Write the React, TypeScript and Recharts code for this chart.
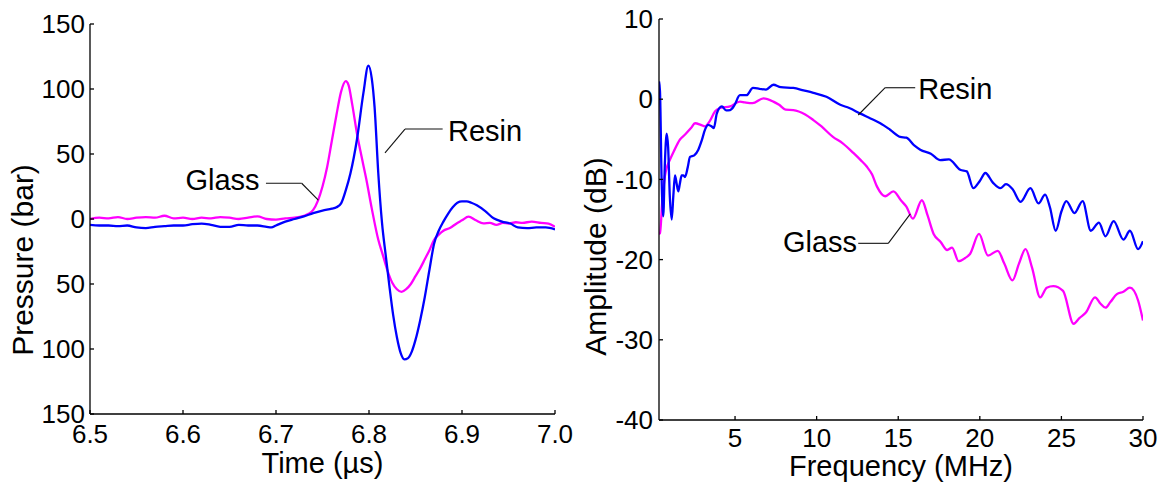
import React from 'react';
import { LineChart, Line, XAxis, YAxis, ReferenceLine, ReferenceDot, Label } from 'recharts';

// ---------- Left panel: pressure vs time ----------
const resinTime = [6.5, 6.51, 6.52, 6.53, 6.54, 6.55, 6.56, 6.57, 6.58, 6.59, 6.6, 6.61, 6.62, 6.63, 6.64, 6.65, 6.66, 6.67, 6.68, 6.69, 6.695, 6.7, 6.71, 6.72, 6.73, 6.74, 6.75, 6.76, 6.765, 6.77, 6.775, 6.78, 6.787, 6.794, 6.7993, 6.803, 6.806, 6.81, 6.814, 6.818, 6.822, 6.826, 6.83, 6.834, 6.838, 6.842, 6.846, 6.85, 6.855, 6.86, 6.865, 6.87, 6.875, 6.88, 6.885, 6.89, 6.895, 6.9, 6.905, 6.91, 6.916, 6.925, 6.934, 6.943, 6.952, 6.96, 6.97, 6.98, 6.99, 7.0];
const resinPressure = [-4.5, -5, -5, -5.5, -5, -6.5, -7, -6, -5.5, -5, -5, -4, -3.5, -4.5, -6, -6, -4.5, -5, -5, -6, -6.5, -5, -2, 0, 2, 4.5, 6.5, 8, 9, 12, 22, 35, 61, 97, 118, 108, 86, 35, -3, -28, -52, -74, -91, -103, -108, -107, -102, -93, -78, -60, -39, -19, -9, -2, 4, 9, 12.5, 13.5, 13.5, 12.5, 10.5, 6, 0.5, -2, -3.5, -6.5, -7, -6.5, -6.5, -8];

const glassTime = [6.5, 6.51, 6.52, 6.53, 6.54, 6.55, 6.56, 6.57, 6.58, 6.59, 6.6, 6.61, 6.62, 6.63, 6.64, 6.65, 6.66, 6.67, 6.68, 6.69, 6.7, 6.71, 6.72, 6.73, 6.735, 6.74, 6.745, 6.75, 6.755, 6.76, 6.765, 6.77, 6.775, 6.778, 6.782, 6.787, 6.792, 6.797, 6.803, 6.81, 6.815, 6.82, 6.825, 6.83, 6.835, 6.84, 6.845, 6.85, 6.855, 6.86, 6.865, 6.87, 6.875, 6.88, 6.887, 6.895, 6.9, 6.907, 6.915, 6.923, 6.93, 6.937, 6.944, 6.95, 6.958, 6.965, 6.975, 6.985, 6.993, 7.0];
const glassPressure = [0, 1, 0.5, 1.5, 0, 1, 1.5, 1, 2.5, 0.5, 1, 0, 1, 0.5, 1.5, 1, 0, 1, 2, 0, -0.5, 0.5, 1, 2.5, 4, 7, 14, 25, 40, 60, 80, 98, 106, 103, 88, 66, 48, 31, 8, -16, -28, -40, -49, -54, -56, -54, -50, -44, -38, -31, -24, -16, -12, -9, -7, -3, -1, 1.8, -1, -3.3, -3, -4.5, -3, -3.5, -2.5, -3, -2, -3, -3.5, -6];

const timeTicks = [6.5, 6.6, 6.7, 6.8, 6.9, 7.0];
const pressureTicks = [-150, -100, -50, 0, 50, 100, 150];

// ---------- Right panel: amplitude vs frequency ----------
const resinFreq = [0.34, 0.4, 0.5, 0.6, 0.7, 0.81, 0.9, 1.0, 1.12, 1.22, 1.32, 1.42, 1.52, 1.62, 1.73, 1.83, 1.93, 2.1, 2.24, 2.5, 2.75, 2.95, 3.16, 3.35, 3.57, 3.7, 3.88, 4.19, 4.45, 4.7, 4.95, 5.3, 5.7, 6.1, 6.5, 6.9, 7.35, 7.8, 8.57, 9.2, 9.8, 10.6, 11.45, 12.0, 12.68, 13.3, 13.9, 14.5, 15.12, 15.5, 16.0, 16.35, 17.0, 17.58, 18.1, 18.8, 19.2, 19.6, 20.0, 20.34, 20.8, 21.26, 21.6, 22.0, 22.5, 23.1, 23.6, 24.0, 24.3, 24.65, 25.0, 25.3, 25.8, 26.3, 26.8, 27.3, 27.7, 28.2, 28.8, 29.2, 29.7, 30];
const resinAmp = [2.2, 1, -10, -14.6, -8, -4.3, -6, -12, -15, -12, -9.5, -10.5, -11.5, -10.5, -9.5, -9.5, -9.7, -8.5, -7.2, -7, -6.3, -5.2, -3.8, -3.2, -3.4, -3.6, -1.8, -0.9, -1.4, -1.35, -0.8, 0.5, 0.5, 1.4, 1.3, 1.2, 1.8, 1.5, 1.4, 1.1, 0.8, 0.3, -0.7, -1.1, -1.8, -2.4, -3, -3.8, -4.7, -4.8, -5.8, -6.3, -6.8, -7.6, -7.5, -8.8, -9, -11.1, -10.2, -9.2, -10.4, -11.1, -10.6, -11.2, -12.8, -11.1, -13, -11.9, -13.5, -16.4, -14, -12.7, -14.2, -12.7, -16.4, -15.4, -17.1, -15.2, -17.5, -16.4, -18.7, -17.7];

const glassFreq = [0.34, 0.4, 0.55, 0.7, 0.85, 1.0, 1.25, 1.6, 1.94, 2.3, 2.55, 2.9, 3.16, 3.43, 3.78, 4.1, 4.7, 5.3, 5.6, 6.07, 6.74, 7.35, 7.7, 8.1, 8.57, 9.3, 9.8, 10.3, 11.0, 11.6, 12.25, 12.7, 13.07, 13.4, 13.7, 14.2, 14.7, 15.2, 15.5, 15.9, 16.45, 16.8, 17.17, 17.6, 18.0, 18.3, 18.7, 19.1, 19.4, 19.95, 20.5, 21.1, 21.5, 22.0, 22.4, 22.8, 23.2, 23.7, 24.1, 24.5, 25.1, 25.75, 26.1, 26.5, 27.06, 27.4, 27.7, 28.0, 28.4, 28.8, 29.2, 29.7, 30];
const glassAmp = [-16.8, -16.7, -12.5, -9.6, -8.3, -7.6, -6.5, -5.1, -4.4, -3.6, -3, -3.2, -3.4, -2.8, -1.5, -1.1, -0.9, -0.3, -0.4, -0.5, 0.1, -0.3, -0.7, -1.3, -1.35, -1.9, -2.6, -3.4, -4.7, -5.5, -6.7, -7.6, -8.4, -9.4, -10.9, -12.1, -11.5, -12.7, -13.4, -14.9, -12.6, -14.5, -16.8, -17.8, -18.8, -18.5, -20.2, -19.8, -19.3, -16.8, -19.5, -18.9, -20.5, -22.6, -20.5, -18.7, -21, -24.7, -23.5, -23.3, -23.9, -28, -27.3, -26.6, -24.7, -25.5, -26, -25.3, -24.3, -24, -23.5, -25.1, -27.6];

const freqTicks = [5, 10, 15, 20, 25, 30];
const ampTicks = [-40, -30, -20, -10, 0, 10];

const zip = (xs: number[], ys: number[], kx: string, ky: string) =>
  xs.map((x, i) => ({ [kx]: x, [ky]: ys[i] }));

const resinTimeData = zip(resinTime, resinPressure, 't', 'p');
const glassTimeData = zip(glassTime, glassPressure, 't', 'p');
const resinFreqData = zip(resinFreq, resinAmp, 'f', 'a');
const glassFreqData = zip(glassFreq, glassAmp, 'f', 'a');

const FONT = '"Liberation Sans", Arial, Helvetica, sans-serif';
const BLUE = '#0000ff';
const MAGENTA = '#ff00ff';
const tickStyle = { fill: '#000', fontSize: 26, fontFamily: FONT };
const axisStroke = { stroke: '#000', strokeWidth: 1.3 };
const leader = { stroke: '#111', strokeWidth: 1.1 };

const textShape = (label: string, anchor: 'start' | 'end') => (p: any) => (
  <text x={p.cx} y={p.cy} textAnchor={anchor} fontSize={29} fontFamily={FONT} fill="#000">
    {label}
  </text>
);

const xLabel = (value: string, dy: number) => (props: any) => {
  const vb = props.viewBox;
  return (
    <text x={vb.x + vb.width / 2} y={vb.y + dy} textAnchor="middle" fontSize={29} fontFamily={FONT} fill="#000">
      {value}
    </text>
  );
};

const yLabel = (value: string, xPos: number, yShift: number) => (props: any) => {
  const vb = props.viewBox;
  const cy = vb.y + vb.height / 2 + yShift;
  return (
    <text x={xPos} y={cy} transform={`rotate(-90, ${xPos}, ${cy})`} textAnchor="middle" fontSize={30} fontFamily={FONT} fill="#000">
      {value}
    </text>
  );
};

function TimePanel() {
  return (
    <LineChart width={580} height={485} margin={{ top: 24, right: 25, bottom: 0, left: 0 }}>
      <XAxis
        xAxisId="main"
        type="number"
        dataKey="t"
        domain={[6.5, 7.0]}
        ticks={timeTicks}
        tickFormatter={(v: number) => v.toFixed(1)}
        allowDataOverflow
        height={71}
        tickSize={-4}
        tickMargin={15}
        tick={tickStyle}
        axisLine={axisStroke}
        tickLine={axisStroke}
      >
        <Label content={xLabel('Time (µs)', 59)} />
      </XAxis>
      <XAxis
        xAxisId="top"
        orientation="top"
        type="number"
        dataKey="t"
        domain={[6.5, 7.0]}
        ticks={timeTicks}
        allowDataOverflow
        height={0}
        tickSize={-4}
        tick={false}
        axisLine={axisStroke}
        tickLine={axisStroke}
      />
      <YAxis
        yAxisId="main"
        type="number"
        domain={[-150, 150]}
        ticks={pressureTicks}
        tickFormatter={(v: number) => String(Math.abs(v))}
        allowDataOverflow
        width={90}
        tickSize={-4}
        tickMargin={9}
        tick={tickStyle}
        axisLine={axisStroke}
        tickLine={axisStroke}
      >
        <Label content={yLabel('Pressure (bar)', 33, 41)} />
      </YAxis>
      <YAxis
        yAxisId="right"
        orientation="right"
        type="number"
        domain={[-150, 150]}
        ticks={pressureTicks}
        allowDataOverflow
        width={0}
        tickSize={-4}
        tick={false}
        axisLine={axisStroke}
        tickLine={axisStroke}
      />
      <Line xAxisId="main" yAxisId="main" type="monotone" data={glassTimeData} dataKey="p" stroke={MAGENTA} strokeWidth={2.3} dot={false} isAnimationActive={false} />
      <Line xAxisId="main" yAxisId="main" type="monotone" data={resinTimeData} dataKey="p" stroke={BLUE} strokeWidth={2.3} dot={false} isAnimationActive={false} />
      <ReferenceLine xAxisId="main" yAxisId="main" segment={[{ x: 6.8792, y: 69.2 }, { x: 6.8387, y: 69.2 }]} {...leader} ifOverflow="visible" />
      <ReferenceLine xAxisId="main" yAxisId="main" segment={[{ x: 6.8387, y: 69.2 }, { x: 6.8172, y: 50.8 }]} {...leader} ifOverflow="visible" />
      <ReferenceDot xAxisId="main" yAxisId="main" x={6.885} y={60} r={0} ifOverflow="visible" shape={textShape('Resin', 'start')} />
      <ReferenceLine xAxisId="main" yAxisId="main" segment={[{ x: 6.6892, y: 27.5 }, { x: 6.7276, y: 27.5 }]} {...leader} ifOverflow="visible" />
      <ReferenceLine xAxisId="main" yAxisId="main" segment={[{ x: 6.7276, y: 27.5 }, { x: 6.7455, y: 14.6 }]} {...leader} ifOverflow="visible" />
      <ReferenceDot xAxisId="main" yAxisId="main" x={6.6823} y={22.3} r={0} ifOverflow="visible" shape={textShape('Glass', 'end')} />
    </LineChart>
  );
}

function FreqPanel() {
  return (
    <LineChart width={587} height={485} margin={{ top: 19, right: 24, bottom: 0, left: 0 }}>
      <XAxis
        xAxisId="main"
        type="number"
        dataKey="f"
        domain={[0.34, 30]}
        ticks={freqTicks}
        allowDataOverflow
        height={65}
        tickSize={-4}
        tickMargin={13}
        tick={tickStyle}
        axisLine={axisStroke}
        tickLine={axisStroke}
      >
        <Label content={xLabel('Frequency (MHz)', 56)} />
      </XAxis>
      <XAxis
        xAxisId="top"
        orientation="top"
        type="number"
        dataKey="f"
        domain={[0.34, 30]}
        ticks={freqTicks}
        allowDataOverflow
        height={0}
        tickSize={-4}
        tick={false}
        axisLine={axisStroke}
        tickLine={axisStroke}
      />
      <YAxis
        yAxisId="main"
        type="number"
        domain={[-40, 10]}
        ticks={ampTicks}
        allowDataOverflow
        width={79}
        tickSize={-4}
        tickMargin={10}
        tick={tickStyle}
        axisLine={axisStroke}
        tickLine={axisStroke}
      >
        <Label content={yLabel('Amplitude (dB)', 26, 37)} />
      </YAxis>
      <YAxis
        yAxisId="right"
        orientation="right"
        type="number"
        domain={[-40, 10]}
        ticks={ampTicks}
        allowDataOverflow
        width={0}
        tickSize={-4}
        tick={false}
        axisLine={axisStroke}
        tickLine={axisStroke}
      />
      <Line xAxisId="main" yAxisId="main" type="monotone" data={glassFreqData} dataKey="a" stroke={MAGENTA} strokeWidth={2.3} dot={false} isAnimationActive={false} />
      <Line xAxisId="main" yAxisId="main" type="monotone" data={resinFreqData} dataKey="a" stroke={BLUE} strokeWidth={2.3} dot={false} isAnimationActive={false} />
      <ReferenceLine xAxisId="main" yAxisId="main" segment={[{ x: 16.04, y: 1.43 }, { x: 14.2, y: 1.43 }]} {...leader} ifOverflow="visible" />
      <ReferenceLine xAxisId="main" yAxisId="main" segment={[{ x: 14.2, y: 1.43 }, { x: 12.55, y: -1.97 }]} {...leader} ifOverflow="visible" />
      <ReferenceDot xAxisId="main" yAxisId="main" x={16.23} y={0} r={0} ifOverflow="visible" shape={textShape('Resin', 'start')} />
      <ReferenceLine xAxisId="main" yAxisId="main" segment={[{ x: 12.55, y: -17.97 }, { x: 14.39, y: -17.97 }]} {...leader} ifOverflow="visible" />
      <ReferenceLine xAxisId="main" yAxisId="main" segment={[{ x: 14.39, y: -17.97 }, { x: 15.74, y: -14.3 }]} {...leader} ifOverflow="visible" />
      <ReferenceDot xAxisId="main" yAxisId="main" x={12.48} y={-19.1} r={0} ifOverflow="visible" shape={textShape('Glass', 'end')} />
    </LineChart>
  );
}

export default function App() {
  return (
    <div style={{ position: 'absolute', left: 0, top: 0, width: 1167, height: 485, background: '#fff', fontFamily: FONT }}>
      <div style={{ position: 'absolute', left: 0, top: 0 }}>
        <TimePanel />
      </div>
      <div style={{ position: 'absolute', left: 580, top: 0 }}>
        <FreqPanel />
      </div>
    </div>
  );
}
